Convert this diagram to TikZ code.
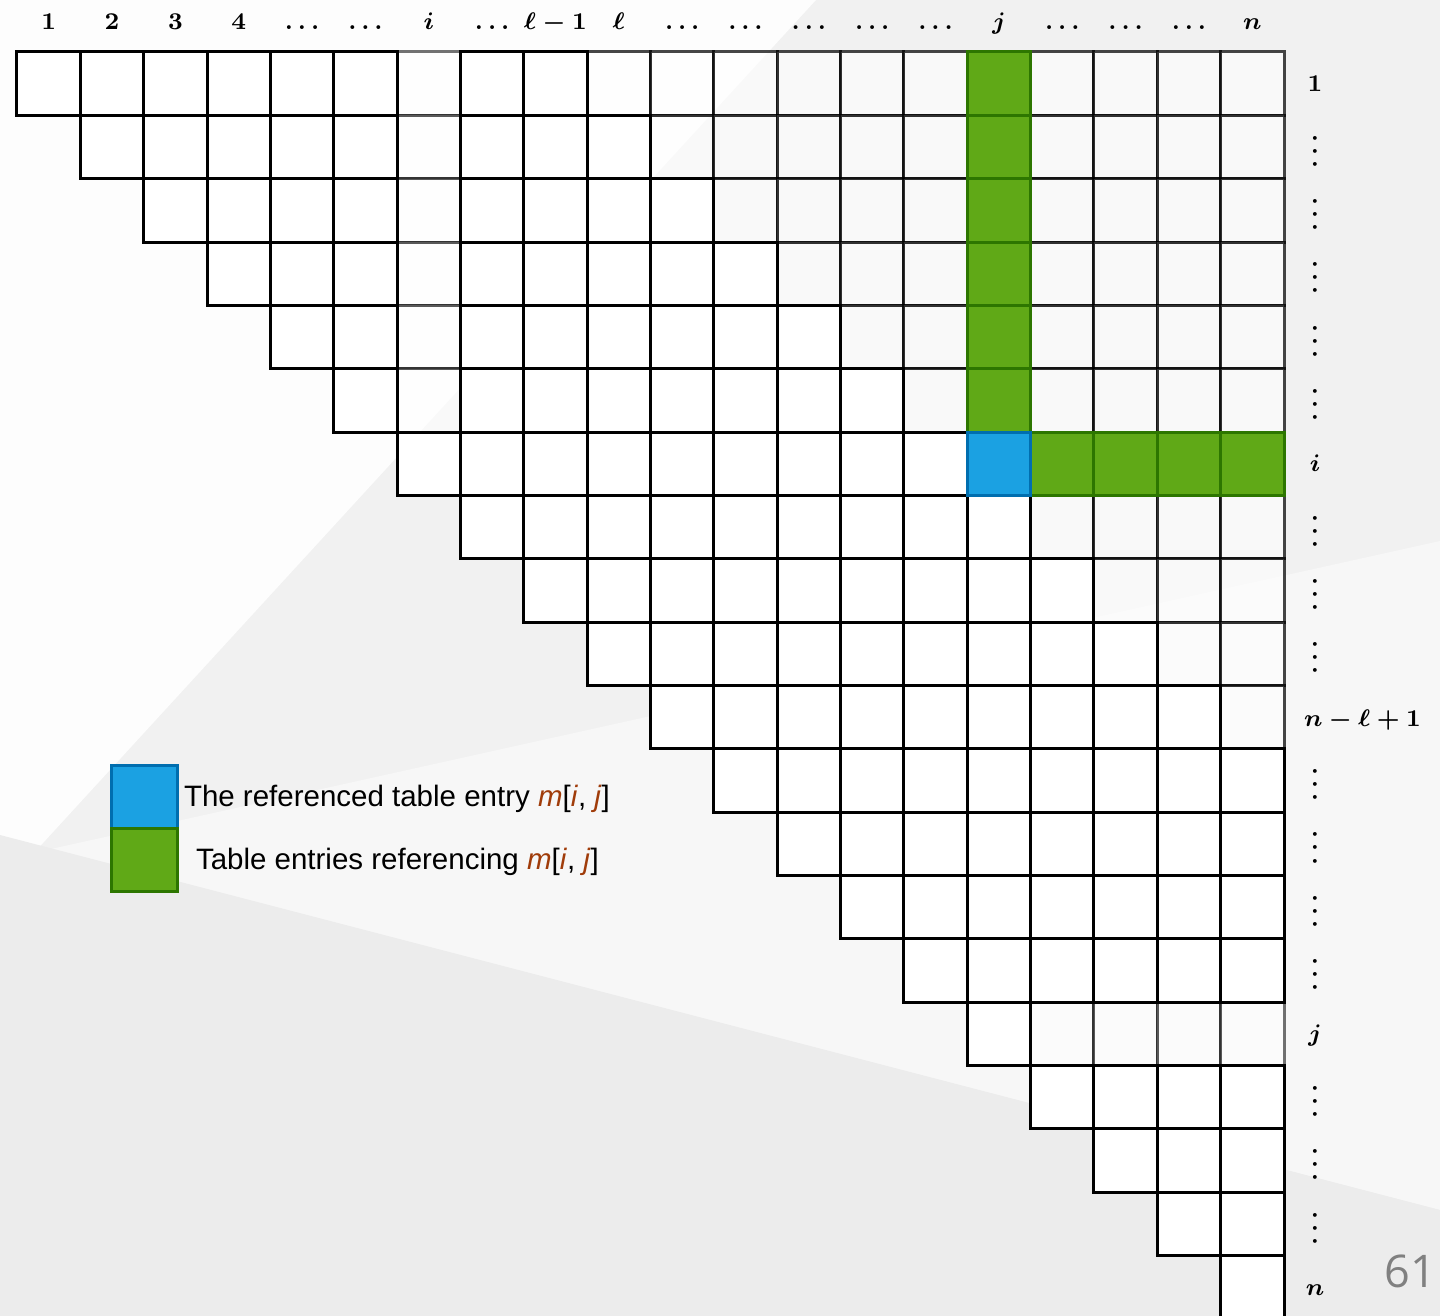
\documentclass[tikz,border=0pt]{standalone}
\usepackage[no-math]{fontspec}
\newfontfamily\legendfont{Liberation Sans}
\newfontfamily\pnfont{Open Sans}
\definecolor{bgtop}{HTML}{F1F1F1}
\definecolor{bgwhite}{HTML}{FDFDFD}
\definecolor{bgmid}{HTML}{F7F7F7}
\definecolor{bgbot}{HTML}{ECECEC}
\definecolor{mblue}{HTML}{1BA1E2}
\definecolor{mblueD}{HTML}{006EAF}
\definecolor{mgreen}{HTML}{60A917}
\definecolor{mgreenD}{HTML}{2D7600}
\definecolor{mred}{RGB}{160,60,10}
\definecolor{pngray}{HTML}{808080}
\newcommand\hlvar[1]{\textcolor{mred}{\textit{#1}}}
\def\setcat#1#2{%
  \def\cat{0}%
  \pgfmathtruncatemacro\len{#2-#1+1}%
  \ifnum\len>9 \def\cat{1}\fi
  \ifnum#2=7 \ifnum#1<7 \def\cat{2}\fi\fi
  \ifnum#1=16 \ifnum#2>16 \def\cat{2}\fi\fi
  \ifnum#2=16 \ifnum#1<7 \def\cat{3}\fi\fi
  \ifnum#1=7 \ifnum#2>16 \def\cat{3}\fi\fi
  \ifnum#1=7 \ifnum#2=16 \def\cat{4}\fi\fi
}
\begin{document}
\begin{tikzpicture}[x=0.333333pt,y=-0.333333pt,
  cell/.style={draw=black, line width=1pt, minimum width=21.117pt, minimum height=21.117pt,
    inner sep=0pt, outer sep=0pt, fill=white},
  cellA/.style={cell, draw opacity=0.72, fill opacity=0.6},
  cellB/.style={cell, draw opacity=0.55, fill opacity=0.6},
  cellG/.style={cell, fill=mgreen, draw=mgreenD},
  cellBl/.style={cell, fill=mblue, draw=mblueD},
  lab/.style={font=\fontsize{8.5}{10}\selectfont\boldmath, inner sep=0pt, outer sep=0pt},
  vdotlab/.style={lab, rotate=90, anchor=center},
  legbox/.style={line width=1pt, minimum width=22pt, minimum height=21pt, inner sep=0pt, outer sep=0pt},
  legtext/.style={font=\legendfont\fontsize{9.83}{11.8}\selectfont, inner sep=0pt, outer sep=0pt, text=black},
  pagenum/.style={font=\pnfont\fontsize{15}{18}\selectfont, text=pngray, inner sep=0pt}
]
\useasboundingbox (0,0) rectangle (1440,1316);
% background facets
\fill[bgtop] (0,0) rectangle (1440,1316);
\fill[bgwhite] (0,0) -- (816,0) -- (34.4,852.4) -- (0,860) -- cycle;
\fill[bgmid] (51,849) -- (1440,541) -- (1440,1210) -- cycle;
\fill[bgbot] (0,835) -- (1440,1210) -- (1440,1316) -- (0,1316) -- cycle;

% table cells, drawn in passes so that solid borders lie on top
\foreach \pass in {1,2,0,3,4}{
  \foreach \rr in {1,...,20}{
    \foreach \cc in {\rr,...,20}{
      \setcat\rr\cc
      \ifnum\cat=\pass
        \ifcase\cat
          \node[cell] (m-\rr-\cc) at ({17+63.35*(\cc-0.5)},{52+63.35*(\rr-0.5)}) {};
        \or
          \node[cellA] (m-\rr-\cc) at ({17+63.35*(\cc-0.5)},{52+63.35*(\rr-0.5)}) {};
        \or
          \node[cellB] (m-\rr-\cc) at ({17+63.35*(\cc-0.5)},{52+63.35*(\rr-0.5)}) {};
        \or
          \node[cellG] (m-\rr-\cc) at ({17+63.35*(\cc-0.5)},{52+63.35*(\rr-0.5)}) {};
        \or
          \node[cellBl] (m-\rr-\cc) at ({17+63.35*(\cc-0.5)},{52+63.35*(\rr-0.5)}) {};
        \fi
      \fi
    }
  }
}

% column labels
\foreach \cc/\txt in {1/1,2/2,3/3,4/4,5/\dots,6/\dots,7/i,8/\dots,9/\ell-1,10/\ell,
  11/\dots,12/\dots,13/\dots,14/\dots,15/\dots,16/j,17/\dots,18/\dots,19/\dots,20/n}{
  \node[lab, anchor=base] (top-\cc) at ({17+63.35*(\cc-0.5)},30) {$\txt$};
}

% row labels
\foreach \rr/\txt in {1/1,7/i,16/j,20/n}{
  \node[lab, anchor=base] (rl-\rr) at (1315,{52+63.35*(\rr-0.5)+8}) {$\txt$};
}
\foreach \rr in {2,3,4,5,6,8,9,10,12,13,14,15,17,18,19}{
  \node[vdotlab] (rl-\rr) at (1315,{52+63.35*(\rr-0.5)+4}) {$\dots$};
}
\node[lab, anchor=base west] (rl-11) at (1304,726) {$n-\ell+1$};

% legend
\node[legbox, fill=mblue, draw=mblueD] (leg-blue) at (144,796.5) {};
\node[legbox, fill=mgreen, draw=mgreenD] (leg-green) at (144,859.5) {};
\node[legtext, anchor=base west] (leg-t1) at (184,806) {The referenced table entry \hlvar{m}[\hlvar{i}, \hlvar{j}]};
\node[legtext, anchor=base west] (leg-t2) at (196,869) {Table entries referencing \hlvar{m}[\hlvar{i}, \hlvar{j}]};

% page number
\node[pagenum, anchor=base west] (pnum) at (1384,1287) {61};
\end{tikzpicture}
\end{document}
